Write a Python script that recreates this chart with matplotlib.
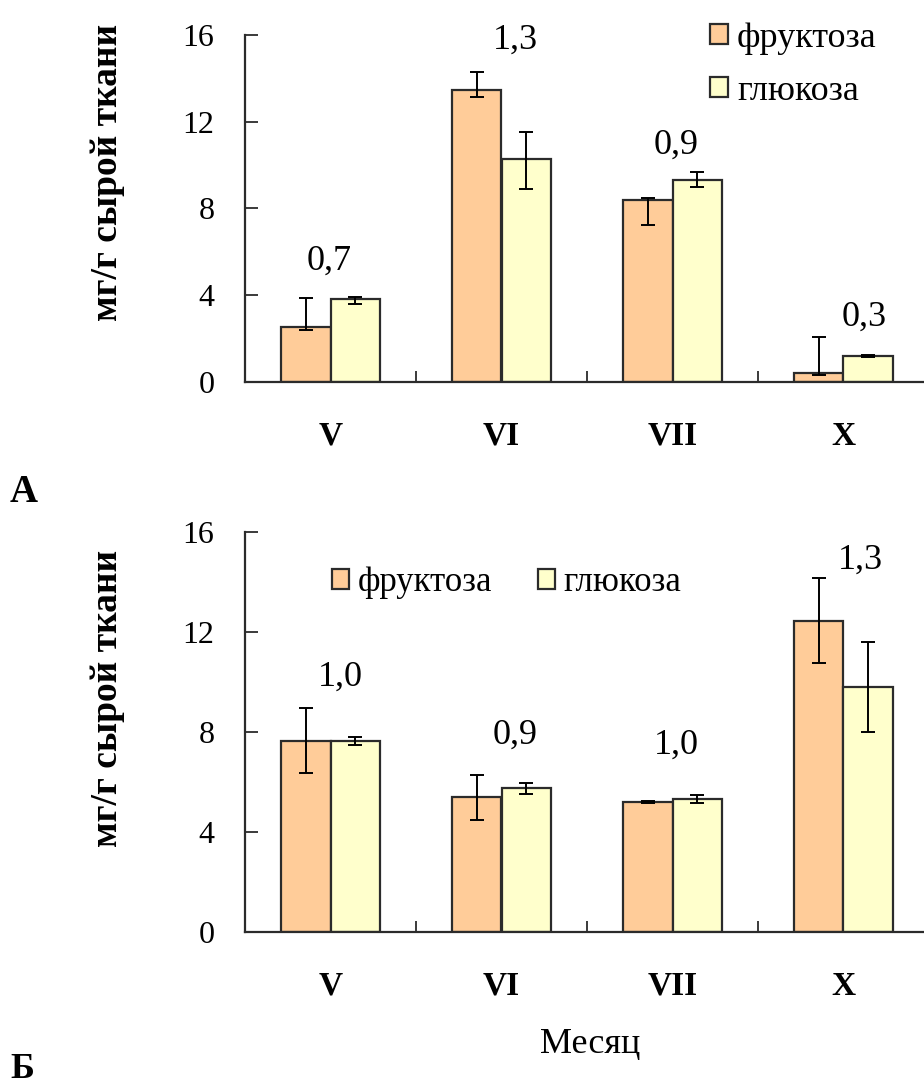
import numpy as np
import matplotlib
matplotlib.use("Agg")
import matplotlib.pyplot as plt
from matplotlib.patches import Patch

plt.rcParams["font.family"] = ["Liberation Serif", "DejaVu Serif"]

months = ["V", "VI", "VII", "X"]
series_names = ["фруктоза", "глюкоза"]

# panel A
fru_a = [2.55, 13.46, 8.39, 0.40]
fru_a_lo = [0.15, 0.31, 1.15, 0.08]
fru_a_hi = [1.31, 0.85, 0.11, 1.69]
glu_a = [3.81, 10.27, 9.31, 1.20]
glu_a_lo = [0.23, 1.39, 0.31, 0.05]
glu_a_hi = [0.12, 1.24, 0.36, 0.03]
ratio_a = ["0,7", "1,3", "0,9", "0,3"]
ratio_a_y = [5.55, 15.77, 10.93, 3.0]
ratio_a_dx = [-0.01, 0.08, 0.02, 0.12]

# panel Б
fru_b = [7.65, 5.41, 5.21, 12.45]
fru_b_lo = [1.30, 0.93, 0.05, 1.70]
fru_b_hi = [1.30, 0.87, 0.05, 1.72]
glu_b = [7.65, 5.75, 5.32, 9.81]
glu_b_lo = [0.17, 0.24, 0.17, 1.80]
glu_b_hi = [0.16, 0.20, 0.16, 1.78]
ratio_b = ["1,0", "0,9", "1,0", "1,3"]
ratio_b_y = [10.21, 7.88, 7.48, 14.88]
ratio_b_dx = [0.06, 0.08, 0.02, 0.10]

yticks = [0, 4, 8, 12, 16]
colors = ["#FFCC99", "#FFFFCC"]
edge = "#2b2b2b"
W, H = 924, 1089
FS = 23      # tick labels
FS_TXT = 26  # legend, ratios


def draw_panel(ax, fru, fru_err, glu, glu_err, labels, label_y, label_dx):
    x = np.arange(len(months))
    w = 0.29
    for vals, err, off, col in [(fru, fru_err, -w / 2, colors[0]),
                                (glu, glu_err, w / 2, colors[1])]:
        ax.bar(x + off, vals, width=w, color=col, edgecolor=edge,
               linewidth=1.6, zorder=2)
        ax.errorbar(x + off, vals, yerr=err, fmt="none", ecolor="black",
                    elinewidth=1.4, capsize=5, capthick=1.4, zorder=3)
    for i, t in enumerate(labels):
        ax.text(x[i] + label_dx[i], label_y[i], t, ha="center", va="center",
                fontsize=FS_TXT)
    ax.set_xlim(-0.5, 3.5)
    ax.set_ylim(0, 16)
    ax.set_yticks(yticks)
    ax.set_yticklabels([str(v) for v in yticks], fontsize=FS)
    ax.set_xticks(x)
    ax.set_xticklabels(months, fontsize=FS + 1, fontweight="bold")
    ax.set_xticks(x[:-1] + 0.5, minor=True)
    ax.tick_params(axis="x", which="major", length=0, pad=28)
    ax.tick_params(axis="x", which="minor", direction="in", length=8,
                   width=1.3, color=edge)
    ax.tick_params(axis="y", direction="in", length=9, width=1.3,
                   color=edge, pad=22)
    for s in ["top", "right"]:
        ax.spines[s].set_visible(False)
    for s in ["left", "bottom"]:
        ax.spines[s].set_color(edge)
        ax.spines[s].set_linewidth(1.6)


fig = plt.figure(figsize=(W / 100, H / 100), dpi=100)

ax_a = fig.add_axes([245 / W, 1 - 382 / H, 684 / W, 347 / H])
draw_panel(ax_a, fru_a, [fru_a_lo, fru_a_hi], glu_a, [glu_a_lo, glu_a_hi],
           ratio_a, ratio_a_y, ratio_a_dx)

ax_b = fig.add_axes([245 / W, 1 - 932 / H, 684 / W, 400 / H])
draw_panel(ax_b, fru_b, [fru_b_lo, fru_b_hi], glu_b, [glu_b_lo, glu_b_hi],
           ratio_b, ratio_b_y, ratio_b_dx)

handles = [Patch(facecolor=c, edgecolor=edge, linewidth=1.6) for c in colors]
fig.legend(handles, series_names, loc="upper left",
           bbox_to_anchor=(710 / W, 1 - 22 / H), frameon=False,
           fontsize=FS_TXT, handlelength=0.5, handleheight=0.5,
           handletextpad=0.25, labelspacing=0.55, borderpad=0,
           borderaxespad=0)
fig.legend(handles, series_names, loc="upper left", ncol=2,
           bbox_to_anchor=(332 / W, 1 - 566 / H), frameon=False,
           fontsize=25, handlelength=0.5, handleheight=0.5,
           handletextpad=0.25, columnspacing=1.3, borderpad=0,
           borderaxespad=0)

for yc in [172, 698]:
    fig.text(108 / W, 1 - yc / H, "мг/г сырой ткани", rotation=90,
             ha="center", va="center", fontsize=27, fontweight="bold")

fig.text(24 / W, 1 - 492 / H, "А", ha="center", va="center",
         fontsize=28, fontweight="bold")
fig.text(22 / W, 1 - 1070 / H, "Б", ha="center", va="center",
         fontsize=26, fontweight="bold")
fig.text(590 / W, 1 - 1045 / H, "Месяц", ha="center", va="center",
         fontsize=26)

fig.savefig("out.png", dpi=100)
